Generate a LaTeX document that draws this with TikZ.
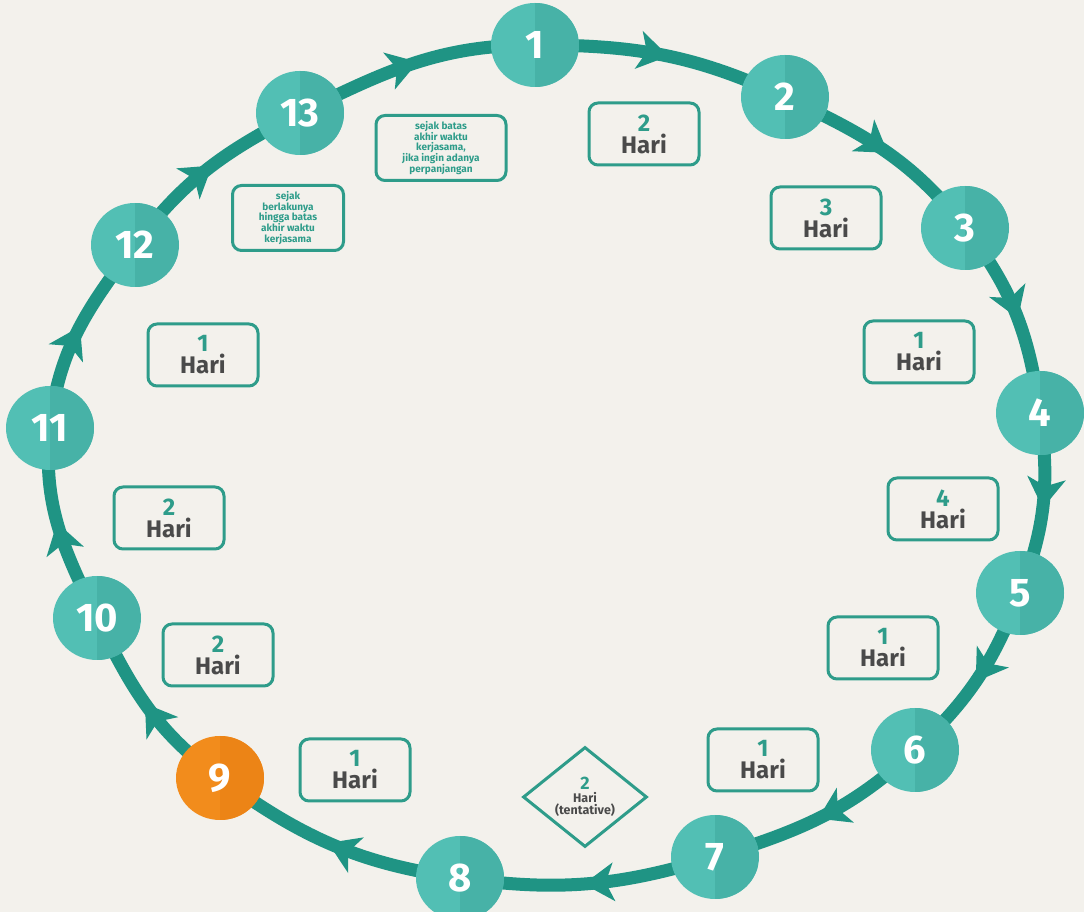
\documentclass[tikz,border=0pt]{standalone}
\usepackage{fontspec}
\setmainfont{Fira Sans}
\usetikzlibrary{arrows.meta,decorations.markings,shapes.geometric,backgrounds}
\definecolor{bg}{HTML}{F3F1EC}
\definecolor{ring}{HTML}{1F9484}
\definecolor{disc}{HTML}{52BFB4}
\definecolor{discdark}{HTML}{47B2A7}
\definecolor{orangec}{HTML}{F28C1C}
\definecolor{orangedark}{HTML}{EC8416}
\definecolor{boxline}{HTML}{2E9C8A}
\definecolor{hari}{HTML}{4A4A4A}
\tikzset{
  stepnum/.style={ellipse, fill=disc, minimum width=88pt, minimum height=84pt, inner sep=0pt,
    text=white, font=\bfseries\fontsize{40}{40}\selectfont,
    path picture={\fill[discdark] (path picture bounding box.north) rectangle (path picture bounding box.south east);}},
  orangestep/.style={fill=orangec,
    path picture={\fill[orangedark] (path picture bounding box.north) rectangle (path picture bounding box.south east);}},
  dayb/.style={draw=boxline, line width=3pt, rounded corners=9pt, minimum width=110pt,
    minimum height=62pt, fill=bg, align=center, inner sep=0pt,
    font=\bfseries\fontsize{24}{22}\selectfont},
  noteb/.style={draw=boxline, line width=3pt, rounded corners=9pt, fill=bg, align=center,
    inner sep=0pt, text=boxline, font=\bfseries\fontsize{10}{10.8}\selectfont},
  seg/.style={draw=ring, line width=13pt, postaction={decorate},
    decoration={markings, mark=at position 0.52 with {\arrow{Stealth[length=30pt,width=38pt,inset=8pt]}}}},
}
\newcommand{\hari}[1]{\textcolor{boxline}{#1}\\\textcolor{hari}{Hari}}
\begin{document}
\begin{tikzpicture}[x=1pt,y=1pt]
\useasboundingbox (0,0) rectangle (1084,912);
% step circles
\node[stepnum] (n1) at (535,867) {1};
\node[stepnum] (n2) at (785,815) {2};
\node[stepnum] (n3) at (965,684) {3};
\node[stepnum] (n4) at (1040,499) {4};
\node[stepnum] (n5) at (1020,319) {5};
\node[stepnum] (n6) at (915,162) {6};
\node[stepnum] (n7) at (715,55) {7};
\node[stepnum] (n8) at (460,34) {8};
\node[stepnum, orangestep] (n9) at (220,134) {9};
\node[stepnum] (n10) at (97,294) {10};
\node[stepnum] (n11) at (50,484) {11};
\node[stepnum] (n12) at (135,667) {12};
\node[stepnum] (n13) at (300,799) {13};
% ring
\begin{scope}[on background layer]
\fill[bg] (0,0) rectangle (1084,912);
\draw[seg] (n1.center) to[out=0,in=155] (n2.center);
\draw[seg] (n2.center) to[out=-25,in=128] (n3.center);
\draw[seg] (n3.center) to[out=-52,in=98] (n4.center);
\draw[seg] (n4.center) to[out=-82,in=69] (n5.center);
\draw[seg] (n5.center) to[out=-111,in=43] (n6.center);
\draw[seg] (n6.center) to[out=-137,in=17] (n7.center);
\draw[seg] (n7.center) to[out=-163,in=-8] (n8.center);
\draw[seg] (n8.center) to[out=172,in=-36] (n9.center);
\draw[seg] (n9.center) to[out=144,in=-64] (n10.center);
\draw[seg] (n10.center) to[out=116,in=-96] (n11.center);
\draw[seg] (n11.center) to[out=84,in=-127] (n12.center);
\draw[seg] (n12.center) to[out=53,in=-153] (n13.center);
\draw[seg] (n13.center) to[out=26,in=180] (n1.center);
\end{scope}
% duration boxes
\node[dayb] (d12) at (644,778) {\hari{2}};
\node[dayb] (d23) at (826,694) {\hari{3}};
\node[dayb] (d34) at (919,560) {\hari{1}};
\node[dayb] (d45) at (943,403) {\hari{4}};
\node[dayb] (d56) at (883,264) {\hari{1}};
\node[dayb] (d67) at (763,152) {\hari{1}};
\node[diamond, draw=boxline, line width=3pt, fill=bg, minimum width=124pt, minimum height=100pt,
  inner sep=0pt, align=center, font=\bfseries\fontsize{12.5}{12.5}\selectfont] (d78) at (585,115)
  {\textcolor{boxline}{\fontsize{18}{14}\selectfont 2}\\\textcolor{hari}{Hari}\\\textcolor{hari}{(tentative)}};
\node[dayb] (d89) at (355,142) {\hari{1}};
\node[dayb] (d910) at (218,257) {\hari{2}};
\node[dayb] (d1011) at (169,394) {\hari{2}};
\node[dayb] (d1112) at (203,557) {\hari{1}};
\node[noteb, minimum width=111pt, minimum height=65pt] (d1213) at (288,694)
  {sejak\\berlakunya\\hingga batas\\akhir waktu\\kerjasama};
\node[noteb, minimum width=130pt, minimum height=65pt] (d131) at (441,764)
  {sejak batas\\akhir waktu\\kerjasama,\\jika ingin adanya\\perpanjangan};
\end{tikzpicture}
\end{document}
